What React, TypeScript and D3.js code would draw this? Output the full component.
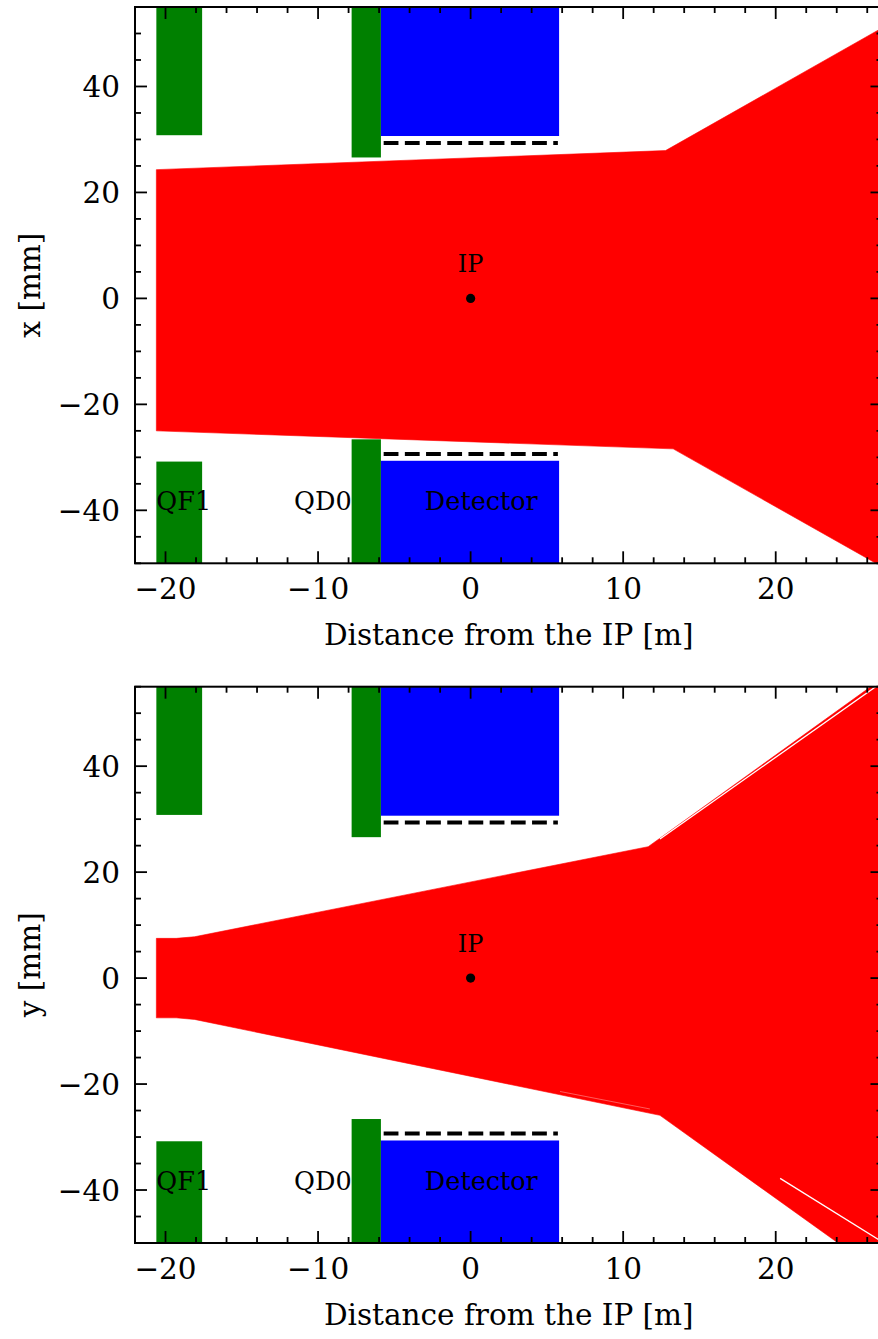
import React from "react";
import * as d3 from "d3";

const W = 878;
const H = 1339;

// axis ranges and ticks
const X_DOMAIN: [number, number] = [-22, 27];
const Y_DOMAIN: [number, number] = [-50, 55];
const xMajorTicks = [-20, -10, 0, 10, 20];
const xMinorTicks = [-22, -18, -16, -14, -12, -8, -6, -4, -2, 2, 4, 6, 8, 12, 14, 16, 18, 22, 24, 26];
const yMajorTicks = [-40, -20, 0, 20, 40];
const yMinorTicks = [-50, -45, -35, -30, -25, -15, -10, -5, 5, 10, 15, 25, 30, 35, 45, 50, 55];

// magnets (quadrupoles)
const magnetNames = ["QF1", "QD0"];
const magnetStart = [-20.6, -7.8];
const magnetEnd = [-17.6, -5.88];
const magnetAperture = [30.8, 26.6];

// detector and beam pipe
const detectorStart = -5.88;
const detectorEnd = 5.8;
const detectorAperture = 30.65;
const pipeStart = -5.7;
const pipeEnd = 5.72;
const pipeRadius = 29.35;

// annotations
const labelNames = ["QF1", "QD0", "Detector"];
const labelZ = [-20.6, -7.8, -3.0];
const labelAnchor = ["start", "end", "start"];
const labelV = -40;
const ipLabelV = 5;

// beam envelope, horizontal plane
const beamXUpperZ = [-20.6, 12.78, 27];
const beamXUpperV = [24.3, 27.9, 51.1];
const beamXLowerZ = [-20.6, 13.28, 27];
const beamXLowerV = [-25.0, -28.4, -50.7];

// beam envelope, vertical plane
const beamYUpperZ = [-20.6, -19.3, -18.1, 11.64, 27];
const beamYUpperV = [7.5, 7.5, 7.8, 24.8, 56.6];
const beamYLowerZ = [-20.6, -19.3, -18.1, 12.41, 27];
const beamYLowerV = [-7.5, -7.5, -7.8, -25.9, -56.0];

// thin gaps between ray bundles (vertical plane)
const gapYZ0 = [12.41, 20.29, 5.86];
const gapYV0 = [26.26, -37.8, -21.4];
const gapYZ1 = [27, 27, 11.75];
const gapYV1 = [55.9, -49.8, -24.7];

const LEFT = 135;
const RIGHT = 882.5;
const PANEL_H = 556.3;
const PANEL_TOPS = [7, 686.7];

const FONT = "'DejaVu Serif', serif";

type PanelProps = {
  idx: number;
  top: number;
  yLabel: string;
  upZ: number[];
  upV: number[];
  loZ: number[];
  loV: number[];
  gaps: { z0: number; v0: number; z1: number; v1: number; w: number; o: number }[];
};

function Panel({ idx, top, yLabel, upZ, upV, loZ, loV, gaps }: PanelProps) {
  const x = d3.scaleLinear().domain(X_DOMAIN).range([LEFT, RIGHT]);
  const y = d3.scaleLinear().domain(Y_DOMAIN).range([top + PANEL_H, top]);
  const bottom = top + PANEL_H;

  const pts: [number, number][] = [
    ...upZ.map((z, i) => [z, upV[i]] as [number, number]),
    ...loZ.map((z, i) => [z, loV[i]] as [number, number]).reverse(),
  ];
  const poly = d3
    .line<[number, number]>()
    .x((d) => x(d[0]))
    .y((d) => y(d[1]))
    .curve(d3.curveLinearClosed)(pts) as string;

  const clipId = `clip${idx}`;
  const fmt = d3.format("d");
  const tickW = 1.8;

  return (
    <g>
      <defs>
        <clipPath id={clipId}>
          <rect x={LEFT} y={top} width={RIGHT - LEFT} height={PANEL_H} />
        </clipPath>
      </defs>
      <g clipPath={`url(#${clipId})`}>
        <path d={poly} fill="#ff0000" stroke="#ff0000" strokeWidth={0.6} />
        {gaps.map((g, i) => (
          <line
            key={i}
            x1={x(g.z0)}
            y1={y(g.v0)}
            x2={x(g.z1)}
            y2={y(g.v1)}
            stroke="#ffffff"
            strokeWidth={g.w}
            strokeOpacity={g.o}
          />
        ))}
        {magnetNames.map((n, i) => (
          <g key={n}>
            <rect
              x={x(magnetStart[i])}
              width={x(magnetEnd[i]) - x(magnetStart[i])}
              y={y(Y_DOMAIN[1])}
              height={y(magnetAperture[i]) - y(Y_DOMAIN[1])}
              fill="#008000"
            />
            <rect
              x={x(magnetStart[i])}
              width={x(magnetEnd[i]) - x(magnetStart[i])}
              y={y(-magnetAperture[i])}
              height={y(Y_DOMAIN[0]) - y(-magnetAperture[i])}
              fill="#008000"
            />
          </g>
        ))}
        <rect
          x={x(detectorStart)}
          width={x(detectorEnd) - x(detectorStart)}
          y={y(Y_DOMAIN[1])}
          height={y(detectorAperture) - y(Y_DOMAIN[1])}
          fill="#0000ff"
        />
        <rect
          x={x(detectorStart)}
          width={x(detectorEnd) - x(detectorStart)}
          y={y(-detectorAperture)}
          height={y(Y_DOMAIN[0]) - y(-detectorAperture)}
          fill="#0000ff"
        />
        {[pipeRadius, -pipeRadius].map((r) => (
          <line
            key={r}
            x1={x(pipeStart)}
            x2={x(pipeEnd)}
            y1={y(r)}
            y2={y(r)}
            stroke="#000"
            strokeWidth={4}
            strokeDasharray="14.8 6.4"
          />
        ))}
        <circle cx={x(0)} cy={y(0)} r={4.6} fill="#000" />
      </g>
      <text x={x(0)} y={y(ipLabelV)} textAnchor="middle" fontFamily={FONT} fontSize={24}>
        IP
      </text>
      {labelNames.map((n, i) => (
        <text
          key={n}
          x={x(labelZ[i])}
          y={y(labelV)}
          textAnchor={labelAnchor[i] as any}
          fontFamily={FONT}
          fontSize={25.5}
        >
          {n}
        </text>
      ))}

      {/* spines */}
      <rect x={LEFT} y={top} width={RIGHT - LEFT} height={PANEL_H} fill="none" stroke="#000" strokeWidth={2} />

      {/* ticks */}
      {xMajorTicks.map((t) => (
        <g key={"xM" + t}>
          <line x1={x(t)} x2={x(t)} y1={bottom} y2={bottom - 12} stroke="#000" strokeWidth={tickW} />
          <line x1={x(t)} x2={x(t)} y1={top} y2={top + 12} stroke="#000" strokeWidth={tickW} />
          <text x={x(t)} y={bottom + 36} textAnchor="middle" fontFamily={FONT} fontSize={29.5}>
            {fmt(t).replace("-", "\u2212")}
          </text>
        </g>
      ))}
      {xMinorTicks.map((t) => (
        <g key={"xm" + t}>
          <line x1={x(t)} x2={x(t)} y1={bottom} y2={bottom - 6} stroke="#000" strokeWidth={tickW} />
          <line x1={x(t)} x2={x(t)} y1={top} y2={top + 6} stroke="#000" strokeWidth={tickW} />
        </g>
      ))}
      {yMajorTicks.map((t) => (
        <g key={"yM" + t}>
          <line x1={LEFT} x2={LEFT + 12} y1={y(t)} y2={y(t)} stroke="#000" strokeWidth={tickW} />
          <line x1={RIGHT} x2={RIGHT - 12} y1={y(t)} y2={y(t)} stroke="#000" strokeWidth={tickW} />
          <text x={120} y={y(t) + 10.8} textAnchor="end" fontFamily={FONT} fontSize={29.5}>
            {fmt(t).replace("-", "\u2212")}
          </text>
        </g>
      ))}
      {yMinorTicks.map((t) => (
        <g key={"ym" + t}>
          <line x1={LEFT} x2={LEFT + 6} y1={y(t)} y2={y(t)} stroke="#000" strokeWidth={tickW} />
          <line x1={RIGHT} x2={RIGHT - 6} y1={y(t)} y2={y(t)} stroke="#000" strokeWidth={tickW} />
        </g>
      ))}

      {/* axis labels */}
      <text
        x={(LEFT + RIGHT) / 2}
        y={top + 638}
        textAnchor="middle"
        fontFamily={FONT}
        fontSize={29.5}
      >
        Distance from the IP [m]
      </text>
      <text
        transform={`translate(40, ${top + PANEL_H / 2}) rotate(-90)`}
        textAnchor="middle"
        fontFamily={FONT}
        fontSize={29.5}
      >
        {yLabel}
      </text>
    </g>
  );
}

export default function App() {
  const gapsY = gapYZ0.map((z0, i) => ({
    z0,
    v0: gapYV0[i],
    z1: gapYZ1[i],
    v1: gapYV1[i],
    w: i === 2 ? 0.6 : 1.3,
    o: i === 2 ? 0.6 : 1,
  }));
  return (
    <div style={{ position: "absolute", left: 0, top: 0 }}>
      <svg width={W} height={H} style={{ display: "block", background: "#fff" }}>
        <Panel
          idx={0}
          top={PANEL_TOPS[0]}
          yLabel="x [mm]"
          upZ={beamXUpperZ}
          upV={beamXUpperV}
          loZ={beamXLowerZ}
          loV={beamXLowerV}
          gaps={[]}
        />
        <Panel
          idx={1}
          top={PANEL_TOPS[1]}
          yLabel="y [mm]"
          upZ={beamYUpperZ}
          upV={beamYUpperV}
          loZ={beamYLowerZ}
          loV={beamYLowerV}
          gaps={gapsY}
        />
      </svg>
    </div>
  );
}
